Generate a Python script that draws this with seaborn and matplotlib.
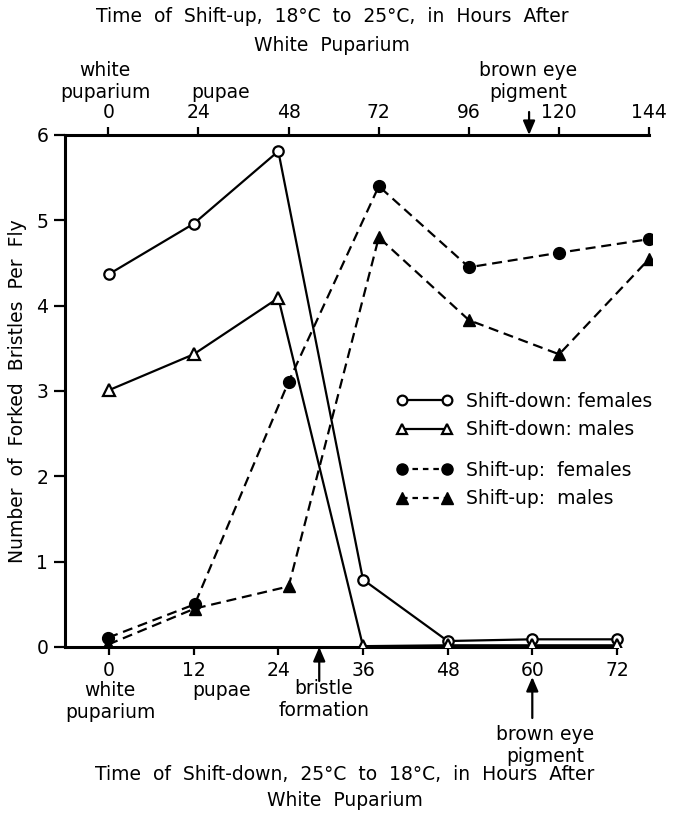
import matplotlib
matplotlib.use("Agg")
import matplotlib.pyplot as plt
import seaborn as sns
import pandas as pd
from matplotlib.lines import Line2D

sns.set_theme(style="ticks")
plt.rcParams["font.family"] = ["DejaVu Sans"]
plt.rcParams["text.color"] = "black"
plt.rcParams["axes.labelcolor"] = "black"
plt.rcParams["axes.edgecolor"] = "black"
plt.rcParams["xtick.color"] = "black"
plt.rcParams["ytick.color"] = "black"

# Shift-down series (25 -> 18 C), hours after white puparium (bottom axis)
down_hours = [0, 12, 24, 36, 48, 60, 72]
down_females = [4.37, 4.96, 5.81, 0.79, 0.07, 0.09, 0.09]
down_males = [3.01, 3.43, 4.09, 0.01, 0.02, 0.02, 0.02]

# Shift-up series (18 -> 25 C), hours after white puparium (top axis)
up_hours = [0, 23, 48, 72, 96, 120, 144]
up_females = [0.11, 0.50, 3.11, 5.40, 4.45, 4.62, 4.78]
up_males = [0.03, 0.45, 0.71, 4.80, 3.83, 3.43, 4.55]

down_ticks = [0, 12, 24, 36, 48, 60, 72]
up_ticks = [0, 24, 48, 72, 96, 120, 144]
y_ticks = [0, 1, 2, 3, 4, 5, 6]

down_df = pd.DataFrame({"hours": down_hours, "females": down_females, "males": down_males})
up_df = pd.DataFrame({"hours": up_hours, "females": up_females, "males": up_males})

W, H = 676, 815
FS = 13.5
fig = plt.figure(figsize=(W / 100, H / 100), dpi=100)
fig.patch.set_facecolor("white")

L, R, T, B = 65, 652, 135, 647
ax = fig.add_axes([L / W, 1 - B / H, (R - L) / W, (B - T) / H])
ax.set_facecolor("white")

# bottom scale: 0 h at x=109 px, 7.055 px per hour; top scale: 0 h at 108.3 px, 3.757 px per hour
ax.set_xlim((L - 109) / 7.055, (R - 109) / 7.055)
ax.set_ylim(0, 6)
ax2 = ax.twiny()
ax2.set_xlim((L - 108.3) / 3.757, (R - 108.3) / 3.757)
ax2.set_ylim(0, 6)

LW = 1.6
dash = (0, (4.5, 2.6))
open_kw = dict(markerfacecolor="white", markeredgecolor="black", markeredgewidth=1.6)
fill_kw = dict(markerfacecolor="black", markeredgecolor="black", markeredgewidth=1.0)

sns.lineplot(data=down_df, x="hours", y="females", ax=ax, color="black", lw=LW,
             marker="o", markersize=7.5, zorder=3, **open_kw)
sns.lineplot(data=down_df, x="hours", y="males", ax=ax, color="black", lw=LW,
             marker="^", markersize=8, zorder=3, **open_kw)
sns.lineplot(data=up_df, x="hours", y="females", ax=ax2, color="black", lw=LW,
             linestyle=dash, marker="o", markersize=8.5, zorder=3, **fill_kw)
sns.lineplot(data=up_df, x="hours", y="males", ax=ax2, color="black", lw=LW,
             linestyle=dash, marker="^", markersize=8.5, zorder=3, **fill_kw)

# spines
for sp in ["top", "right"]:
    ax.spines[sp].set_visible(False)
for sp in ["bottom", "left", "right"]:
    ax2.spines[sp].set_visible(False)
ax.spines["left"].set_linewidth(2.2)
ax.spines["bottom"].set_linewidth(2.2)
ax2.spines["top"].set_linewidth(2.2)
ax.spines["bottom"].set_bounds(ax.get_xlim()[0], 72)
ax2.spines["top"].set_bounds(ax2.get_xlim()[0], 144)

ax.set_xticks(down_ticks)
ax.set_xticklabels([str(t) for t in down_ticks])
ax2.set_xticks(up_ticks)
ax2.set_xticklabels([str(t) for t in up_ticks])
ax.set_yticks(y_ticks)
ax.set_yticklabels([str(t) for t in y_ticks])
ax.tick_params(axis="x", direction="out", length=6, width=1.6, pad=4, labelsize=FS, colors="black")
ax.tick_params(axis="y", direction="out", length=8, width=1.6, pad=4, labelsize=FS, colors="black")
ax2.tick_params(axis="x", direction="out", length=6, width=1.6, pad=3, labelsize=FS, colors="black")
ax2.tick_params(axis="y", left=False, right=False, labelleft=False, labelright=False)

ax.set_ylabel("Number  of  Forked  Bristles  Per  Fly", fontsize=FS, color="black")
ax.yaxis.set_label_coords((27 - L) / (R - L), 0.5)
ax.set_xlabel("Time  of  Shift-down,  25°C  to  18°C,  in  Hours  After\nWhite  Puparium",
              fontsize=FS, color="black", linespacing=1.5)
ax.xaxis.set_label_coords((345 - L) / (R - L), (B - 765) / (B - T))
ax2.set_xlabel("Time  of  Shift-up,  18°C  to  25°C,  in  Hours  After\nWhite  Puparium",
               fontsize=FS, color="black", linespacing=1.65)
ax2.xaxis.set_label_coords((332 - L) / (R - L), 1 + (T - 51) / (B - T))


def ftext(x, y, s, **kw):
    fig.text(x / W, 1 - y / H, s, ha="center", va="center", fontsize=FS,
             color="black", linespacing=1.2, **kw)


# stage annotations, top axis
ftext(105, 81, "white\npuparium")
ftext(221, 92, "pupae")
ftext(528, 81, "brown eye\npigment")
# stage annotations, bottom axis
ftext(110, 701, "white\npuparium")
ftext(222, 690, "pupae")
ftext(324, 700, "bristle\nformation")
ftext(545, 746, "brown eye\npigment")

arrow = dict(arrowstyle="-|>,head_length=0.7,head_width=0.3", color="black", lw=1.6,
             shrinkA=0, shrinkB=0)
ax2.annotate("", xy=(112, 1.0), xytext=(112, 1 + (T - 112) / (B - T)),
             xycoords=ax2.get_xaxis_transform(), textcoords=ax2.get_xaxis_transform(),
             arrowprops=arrow)
ax.annotate("", xy=(29.8, 0.0), xytext=(29.8, -(681 - B) / (B - T)),
            xycoords=ax.get_xaxis_transform(), textcoords=ax.get_xaxis_transform(),
            arrowprops=arrow)
ax.annotate("", xy=(60, -(677 - B) / (B - T)), xytext=(60, -(718 - B) / (B - T)),
            xycoords=ax.get_xaxis_transform(), textcoords=ax.get_xaxis_transform(),
            arrowprops=arrow, annotation_clip=False)

# legend
h_df = Line2D([], [], color="black", lw=LW, marker="o", markersize=7, **open_kw)
h_dm = Line2D([], [], color="black", lw=LW, marker="^", markersize=7.5, **open_kw)
h_uf = Line2D([], [], color="black", lw=LW, linestyle=(0, (2.5, 2.2)), marker="o", markersize=8, **fill_kw)
h_um = Line2D([], [], color="black", lw=LW, linestyle=(0, (2.5, 2.2)), marker="^", markersize=8, **fill_kw)
leg_kw = dict(frameon=False, numpoints=2, handlelength=3.0, handletextpad=0.75,
              borderpad=0, borderaxespad=0, labelspacing=0.5, fontsize=FS,
              loc="upper left", bbox_transform=fig.transFigure, labelcolor="black")
leg1 = ax2.legend([h_df, h_dm], ["Shift-down: females", "Shift-down: males"],
                  bbox_to_anchor=(396 / W, 1 - 392 / H), **leg_kw)
ax2.add_artist(leg1)
ax2.legend([h_uf, h_um], ["Shift-up:  females", "Shift-up:  males"],
           bbox_to_anchor=(396 / W, 1 - 461 / H), **leg_kw)

fig.savefig("out.png", dpi=100, facecolor="white")
